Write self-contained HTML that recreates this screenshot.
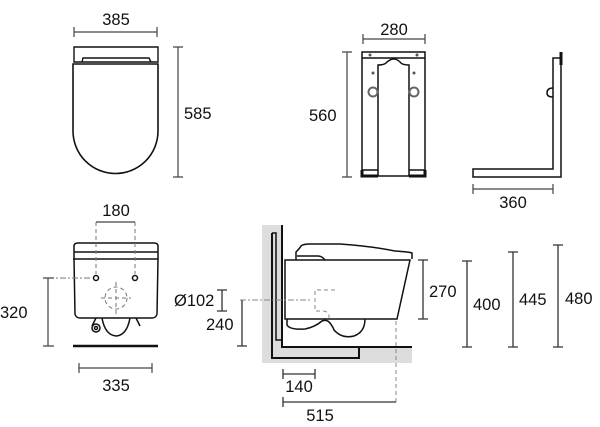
<!DOCTYPE html>
<html><head><meta charset="utf-8"><style>
html,body{margin:0;padding:0;background:#fff;width:600px;height:427px;overflow:hidden}
svg{display:block}
text{font-family:"Liberation Sans",sans-serif;font-size:16.5px;fill:#111}
</style></head><body>
<svg width="600" height="427" viewBox="0 0 600 427" xmlns="http://www.w3.org/2000/svg">
<g fill="none" stroke="#111" stroke-width="1.4">
<!-- TOP LEFT: top view -->
<path d="M74 47 H158 V62 H74 Z"/>
<path d="M82 62 L83 58 H149 L151 62"/>
<path d="M73 64 V131 A42.5 42.5 0 0 0 158 131 V64 Z" stroke-width="1.6"/>
</g>
<g stroke="#444" stroke-width="1.2" fill="none">
<path d="M74 32 H157 M74 27 V37 M157 27 V37"/>
<path d="M178 47 V177 M173 47 H183 M173 177 H183"/>
</g>
<text x="116" y="25" text-anchor="middle">385</text>
<text x="184" y="119">585</text>

<!-- TOP MIDDLE: frame front -->
<g fill="none" stroke="#111" stroke-width="1.5">
<rect x="362" y="52" width="63" height="124"/>
<path d="M362 58 H425"/>
<path d="M378 176 V65 Q385 65 387 62 Q394 56 400 62 Q402 65 409 65 V176"/>
<path d="M362 170 H378 M409 170 H425"/>
<path d="M362 170 V176 H378 M409 176 H425 V170" stroke-width="3"/>
</g>
<g fill="none" stroke="#666" stroke-width="2">
<circle cx="373" cy="92" r="4.5"/><circle cx="414" cy="92" r="4.5"/>
</g>
<g fill="#555"><circle cx="370" cy="55" r="1.5"/><circle cx="417" cy="55" r="1.5"/><circle cx="373" cy="73" r="1.5"/><circle cx="414" cy="73" r="1.5"/></g>
<g stroke="#444" stroke-width="1.2" fill="none">
<path d="M363 39 H425 M363 34 V44 M425 34 V44"/>
<path d="M347 52 V177 M342 52 H352 M342 177 H352"/>
</g>
<text x="394" y="35" text-anchor="middle">280</text>
<text x="309" y="121">560</text>

<!-- TOP RIGHT: frame side -->
<g fill="none" stroke="#111" stroke-width="1.5">
<path d="M553 58 H561 V177 H473 V169 H553 Z"/>
<path d="M561 52 V65" stroke-width="3"/>
<path d="M553 88 Q547 88 547 93 Q547 97 553 97"/>
</g>
<g stroke="#444" stroke-width="1.2" fill="none"><path d="M473 189 H553 M473 184 V194 M553 184 V194"/></g>
<text x="513" y="208" text-anchor="middle">360</text>

<!-- BOTTOM LEFT: front view -->
<g fill="none" stroke="#111" stroke-width="1.5">
<path d="M74 259 V246 Q74 243 78 243 H154 Q158 243 158 246 V259"/>
<path d="M74 252 H158 M73 259 H158"/>
<path d="M74 259 L75 314 Q76 318 80 318 H152 Q156 318 157 314 L158 259"/>
<path d="M96 318 L92 326 M136 318 L140 326"/>
<path d="M102 318 Q105 335 116 336 Q127 335 130 318"/>
<circle cx="96" cy="328" r="4"/><circle cx="96" cy="328" r="1.5"/>
<circle cx="96" cy="278" r="2.5"/><circle cx="135" cy="278" r="2.5"/>
</g>
<path d="M73 346 H158" stroke="#111" stroke-width="2.5"/>
<g fill="none" stroke="#777" stroke-width="1" stroke-dasharray="4 3">
<circle cx="116" cy="298" r="11"/>
<path d="M96 222 V274 M135 222 V274"/>
<path d="M116 282 V314 M101 298 H131"/>
<path d="M48 278 H92" stroke-dasharray="6 2 2 2"/>
</g>
<g stroke="#444" stroke-width="1.2" fill="none">
<path d="M96 222 H135"/>
<path d="M48 278 V346 M43 278 H54 M43 346 H54"/>
<path d="M79 368 H152 M79 363 V373 M152 363 V373"/>
</g>
<text x="116" y="216" text-anchor="middle">180</text>
<text x="0" y="318">320</text>
<text x="116" y="391" text-anchor="middle">335</text>

<!-- BOTTOM RIGHT: side view -->
<rect x="262" y="225" width="21" height="138" fill="#ddd"/>
<rect x="262" y="347" width="150" height="16" fill="#ddd"/>
<g fill="none" stroke="#111">
<path d="M282 225 V347 H412" stroke-width="2"/>
<path d="M272 233 V358 H359 V347" stroke-width="2"/>
<path d="M272 233 H276 V340 H283" stroke-width="1.5"/>
</g>
<g fill="none" stroke="#111" stroke-width="1.5">
<path d="M285 260 H410 L397 319 H285 Z"/>
<path d="M296 260 V252 Q300 248 301 246 Q303 244 310 244 H340 Q370 246 395 251 Q410 252 412 253 V259"/>
<path d="M297 256 H318 Q322 256 325 260"/>
<path d="M287 319 V325 Q290 330 305 329 Q315 327 322 321 Q327 319 330 323 Q333 327 334 330 Q342 339 354 336 Q365 332 365 319"/>
</g>
<g fill="none" stroke="#888" stroke-width="1" stroke-dasharray="4 3">
<path d="M335 290 H315 V311 H322 Q330 311 329 319"/>
<path d="M240 300 H312" stroke-dasharray="6 2 2 2"/>
<path d="M396 321 V402"/>
</g>
<g stroke="#333" stroke-width="1.3" fill="none">
<path d="M423 260 V319 M418 260 H428 M418 319 H428"/>
<path d="M467 261 V347 M462 261 H472 M462 347 H472"/>
<path d="M513 252 V347 M508 252 H518 M508 347 H518"/>
<path d="M558 245 V347 M553 245 H563 M553 347 H563"/>
<path d="M283 374 H315 M283 369 V379 M315 369 V379"/>
<path d="M283 402 H396 M283 397 V407"/>
<path d="M222 290 V311 M217 290 H227 M217 311 H227"/>
<path d="M242 300 V346 M237 346 H247"/>
</g>
<text x="429" y="297">270</text>
<text x="473" y="310">400</text>
<text x="519" y="305">445</text>
<text x="565" y="304">480</text>
<text x="299" y="392" text-anchor="middle">140</text>
<text x="320" y="421" text-anchor="middle">515</text>
<text x="174" y="306">Ø102</text>
<text x="206" y="330">240</text>
</svg>
</body></html>
